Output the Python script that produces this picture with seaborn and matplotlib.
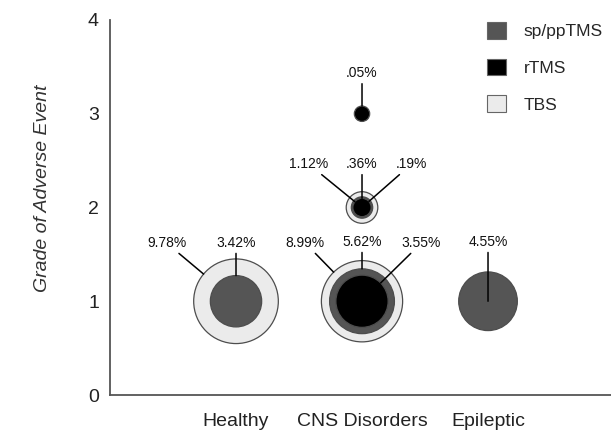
import numpy as np
import pandas as pd
import matplotlib
matplotlib.use('Agg')
import matplotlib.pyplot as plt
from matplotlib.patches import Patch
import seaborn as sns

# categories and series values
groups = ['Healthy', 'CNS Disorders', 'Epileptic']
protocols = ['sp/ppTMS', 'rTMS', 'TBS']
protocol_colors = ['#555555', '#000000', '#ebebeb']

event_group = ['Healthy', 'Healthy', 'CNS Disorders', 'CNS Disorders', 'CNS Disorders',
               'Epileptic', 'CNS Disorders', 'CNS Disorders', 'CNS Disorders', 'CNS Disorders']
event_grade = [1, 1, 1, 1, 1, 1, 2, 2, 2, 3]
event_protocol = ['TBS', 'sp/ppTMS', 'TBS', 'sp/ppTMS', 'rTMS',
                  'sp/ppTMS', 'TBS', 'sp/ppTMS', 'rTMS', 'rTMS']
event_pct = [9.78, 3.42, 8.99, 5.62, 3.55, 4.55, 1.12, 0.36, 0.19, 0.05]
event_label = ['9.78%', '3.42%', '8.99%', '5.62%', '3.55%', '4.55%', '1.12%', '.36%', '.19%', '.05%']

# layout of the percentage labels (offset from circle centre, data units)
label_dx = [-0.55, 0.0, -0.45, 0.0, 0.47, 0.0, -0.42, 0.0, 0.39, 0.0]
label_dy = [0.62, 0.62, 0.62, 0.63, 0.62, 0.63, 0.46, 0.46, 0.46, 0.43]
# leader line stops at the edge of the circle of this row (None = centre)
line_stop = [0, 1, 2, 3, 4, None, 8, 8, 8, 9]

sizes = (104, 3795)
size_norm = (0, 10)

df = pd.DataFrame({'group': event_group, 'grade': event_grade,
                   'protocol': event_protocol, 'pct': event_pct})
df['x'] = df['group'].map({g: i for i, g in enumerate(groups)})
order = df.sort_values('pct', ascending=False)

sns.set_theme(style='white')
plt.rcParams['font.family'] = ['Liberation Sans', 'DejaVu Sans']

fig = plt.figure(figsize=(6.11, 4.34), dpi=100)
ax = fig.add_axes([110 / 611, 39 / 434, 501 / 611, 375 / 434])

sns.scatterplot(data=order, x='x', y='grade', hue='protocol',
                palette=dict(zip(protocols, protocol_colors)),
                size='pct', sizes=sizes, size_norm=size_norm,
                edgecolor='#4d4d4d', linewidth=0.9, legend=False, ax=ax, zorder=2)


def radius_pt(p):
    s = sizes[0] + (p - size_norm[0]) / (size_norm[1] - size_norm[0]) * (sizes[1] - sizes[0])
    return np.sqrt(s) / 2


for i in range(len(event_pct)):
    x0 = groups.index(event_group[i])
    y0 = event_grade[i]
    stop = 0 if line_stop[i] is None else radius_pt(event_pct[line_stop[i]])
    ax.annotate(event_label[i], xy=(x0, y0),
                xytext=(x0 + label_dx[i], y0 + label_dy[i]), textcoords='data',
                ha='center', va='center', fontsize=10, color='#111111',
                arrowprops=dict(arrowstyle='-', color='black', lw=1.1,
                                shrinkA=0, shrinkB=stop),
                zorder=4)

ax.set_xlim(-1.0, 2.976)
ax.set_ylim(0, 4)
ax.set_xticks(range(len(groups)))
ax.set_xticklabels(groups)
ax.set_yticks(range(5))
ax.set_xlabel('')
ax.set_ylabel('Grade of Adverse Event', fontsize=14, fontstyle='italic', color='#333333')
ax.yaxis.set_label_coords(-0.118, 0.55)
ax.tick_params(axis='both', length=0, labelsize=14, labelcolor='#222222')
ax.tick_params(axis='x', pad=13)
ax.tick_params(axis='y', pad=8)

sns.despine(ax=ax)
for side in ['left', 'bottom']:
    ax.spines[side].set_color('#555555')
    ax.spines[side].set_linewidth(1.3)

handles = [Patch(facecolor=c, edgecolor='#666666', linewidth=0.8) for c in protocol_colors]
fig.legend(handles, protocols, loc='upper left', bbox_to_anchor=(487 / 611, 1 - 22 / 434),
           frameon=False, fontsize=12.5, handlelength=1.1, handleheight=1.1,
           handletextpad=1.0, labelspacing=1.12, borderpad=0, borderaxespad=0)

plt.savefig('out.png', dpi=100)
plt.close()
